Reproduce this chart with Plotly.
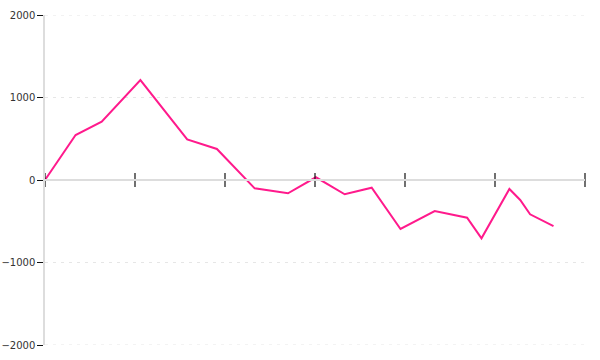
import plotly.graph_objects as go

x_vals = [0, 3.4, 6.3, 10.6, 15.8, 19.1, 23.3, 27.0, 30.1, 33.3, 36.3, 39.5,
          43.3, 46.9, 48.5, 51.6, 52.8, 53.9, 56.5]
y_vals = [0, 545, 707, 1212, 493, 376, -101, -161, 33, -173, -93, -594,
          -376, -457, -707, -109, -242, -416, -558]
x_ticks = [0, 10, 20, 30, 40, 50, 60]
y_ticks = [-2000, -1000, 0, 1000, 2000]
edge_grid = [-2000, 2000]

fig = go.Figure()
for g in edge_grid:
    fig.add_shape(type="line", xref="paper", yref="y", x0=0, x1=1, y0=g, y1=g,
                  line=dict(color="#e6e6e6", width=1, dash="3px,5px"), layer="below")
fig.add_trace(go.Scatter(
    x=x_vals, y=y_vals, mode="lines",
    line=dict(color="#ff1a8c", width=2), hoverinfo="skip", showlegend=False,
))
fig.add_trace(go.Scatter(
    x=x_ticks, y=[0] * len(x_ticks), mode="markers",
    marker=dict(symbol="line-ns", size=10, line=dict(color="#111", width=1.2)),
    hoverinfo="skip", showlegend=False, cliponaxis=False,
))

fig.update_layout(
    width=600, height=360,
    margin=dict(l=45, r=15, t=15, b=15),
    paper_bgcolor="white", plot_bgcolor="white",
    font=dict(family="DejaVu Sans", size=10, color="#333"),
    xaxis=dict(
        range=[0, 60], anchor="free", position=0.5, automargin=False,
        showline=True, linecolor="#dddddd", linewidth=1.5,
        showgrid=False, zeroline=False, ticks="", showticklabels=False,
    ),
    yaxis=dict(
        range=[-2000, 2000], tickvals=y_ticks, automargin=False,
        showline=True, linecolor="#dddddd", linewidth=1.5,
        ticks="outside", ticklen=6, tickcolor="#111", tickwidth=1.2,
        showgrid=True, gridcolor="#e6e6e6", griddash="3px,5px", gridwidth=1,
        zeroline=False,
    ),
)

fig.write_html("out.html")
